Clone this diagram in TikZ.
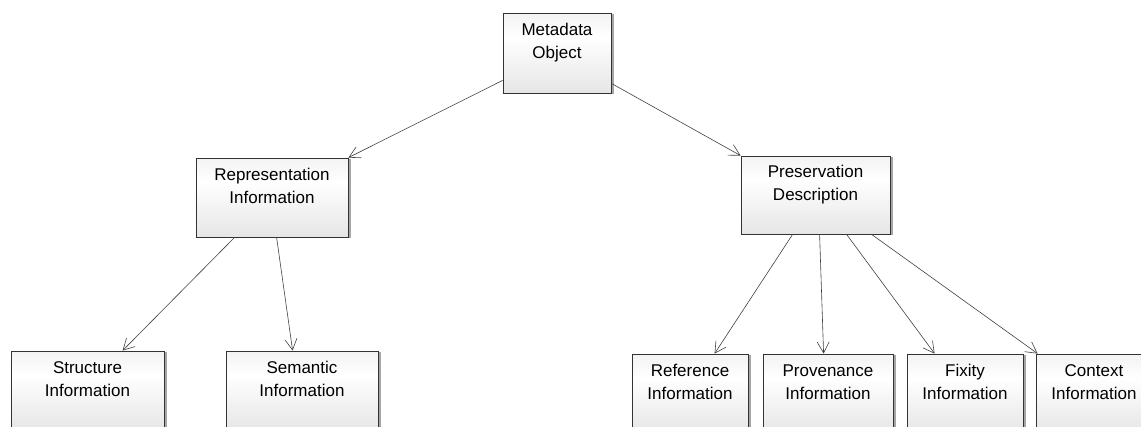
\documentclass[tikz,border=0pt]{standalone}
\usepackage{fontspec}
\setmainfont{Liberation Sans}
\usetikzlibrary{arrows.meta,calc}
\pgfdeclareverticalshading{boxshade}{100bp}{
  color(0bp)=(black!24);
  color(25bp)=(black!10);
  color(60bp)=(white);
  color(100bp)=(black!13)}
\tikzset{
  box/.style={draw=black!80, line width=0.8pt, shading=boxshade,
    minimum width=#1, minimum height=80pt, inner sep=0pt,
    font=\fontsize{17}{22}\selectfont, align=center,
    append after command={
      \pgfextra{\draw[black!35, line width=1.6pt]
        ($(\tikzlastnode.north east)+(1.6pt,-1pt)$) -- ($(\tikzlastnode.south east)+(1.6pt,-1pt)$);}
    }},
  conn/.style={draw=black!75, line width=0.6pt,
    -{Straight Barb[length=11pt,width=12pt,line width=0.6pt]}}
}
\newcommand{\boxtext}[2]{\raisebox{10pt}[\height][\depth]{\begin{tabular}{@{}c@{}}#1\\[1pt]#2\end{tabular}}}
\begin{document}
\begin{tikzpicture}[x=1pt,y=-1pt]
\useasboundingbox (0,0) rectangle (1141,426);
\clip (0,0) rectangle (1141,426);
\node[box=108pt] (meta) at (557,53) {\boxtext{Metadata}{Object}};
\node[box=152pt, minimum height=79pt] (rep) at (272,197.5) {\boxtext{Representation}{Information}};
\node[box=149pt, minimum height=78pt] (pres) at (815.5,195) {\boxtext{Preservation}{Description}};
\node[box=153pt] (struct) at (87.5,391) {\boxtext{Structure}{Information}};
\node[box=152pt] (sem) at (302,391) {\boxtext{Semantic}{Information}};
\node[box=116pt] (ref) at (690,394) {\boxtext{Reference}{Information}};
\node[box=130pt] (prov) at (828,394) {\boxtext{Provenance}{Information}};
\node[box=116pt] (fix) at (965,394) {\boxtext{Fixity}{Information}};
\node[box=116pt] (ctx) at (1094,394) {\boxtext{Context}{Information}};

\draw[conn] ([yshift=13pt]meta.south west) -- (rep.north east);
\draw[conn] ([yshift=10pt]meta.south east) -- (pres.north west);
\draw[conn] ([xshift=39pt]rep.south west) -- ([xshift=112pt]struct.north west);
\draw[conn] ([xshift=81pt]rep.south west) -- ([xshift=67pt]sem.north west);
\draw[conn] ([xshift=52pt]pres.south west) -- ([xshift=83pt]ref.north west);
\draw[conn] ([xshift=79pt]pres.south west) -- ([xshift=61pt]prov.north west);
\draw[conn] ([xshift=106pt]pres.south west) -- ([xshift=28pt]fix.north west);
\draw[conn] ([xshift=131pt]pres.south west) -- ([xshift=2pt]ctx.north west);
\end{tikzpicture}
\end{document}
